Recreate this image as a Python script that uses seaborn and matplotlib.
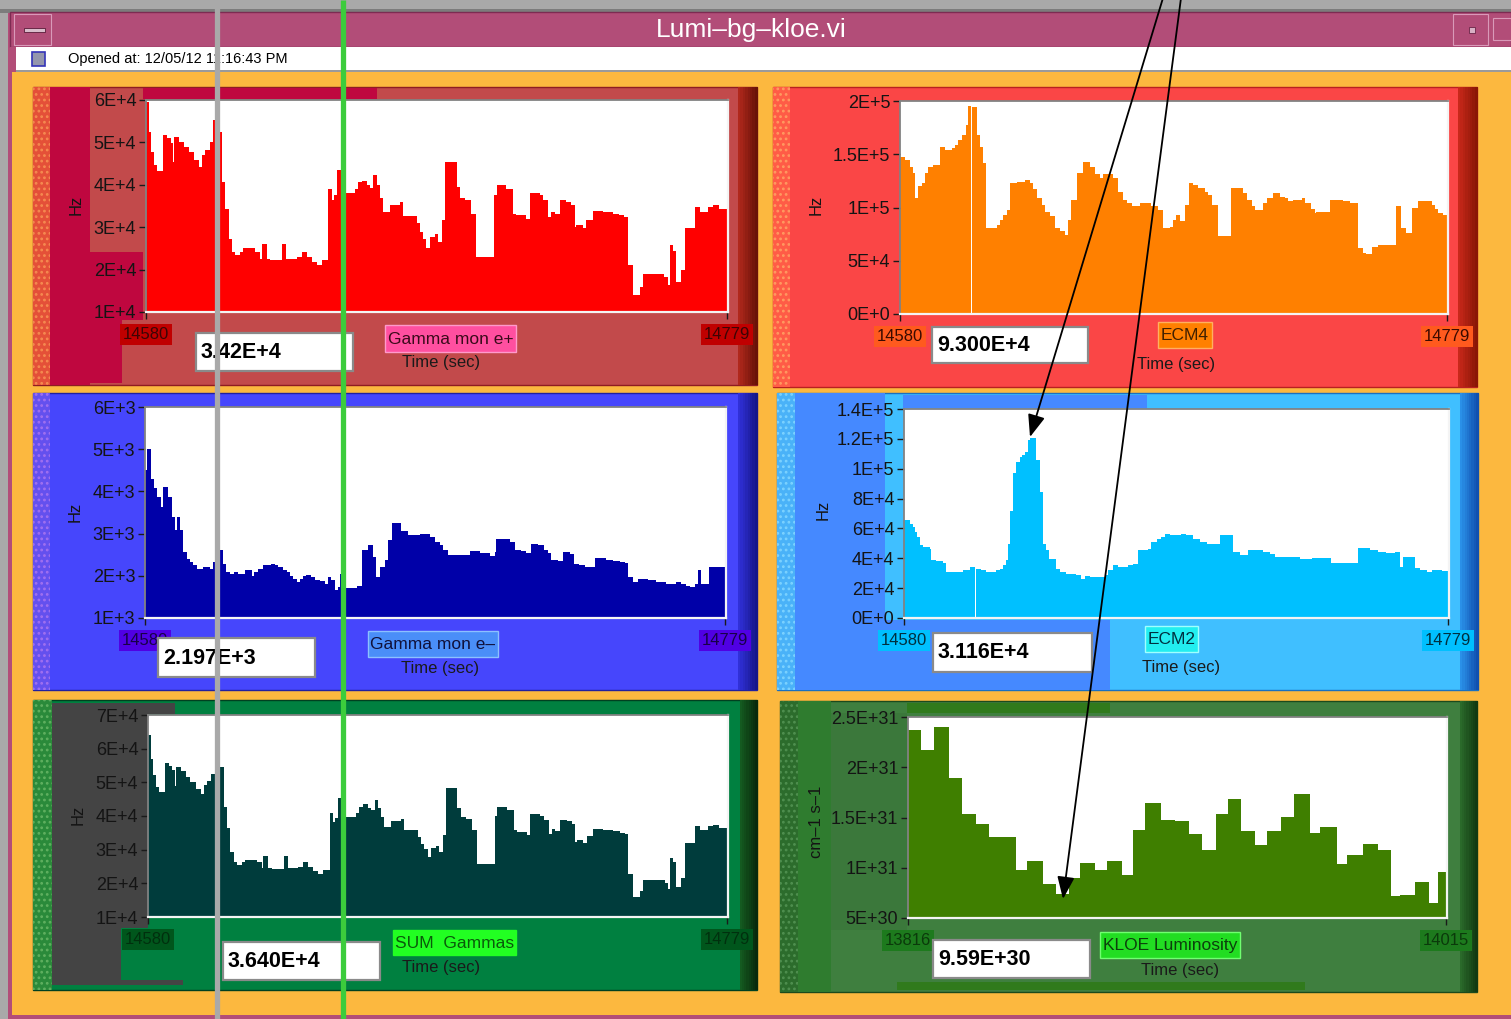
import numpy as np
import pandas as pd
import matplotlib
matplotlib.use("Agg")
import matplotlib.pyplot as plt
from matplotlib.patches import Rectangle
from matplotlib.colors import to_rgb
import seaborn as sns

plt.rcParams["font.family"] = ["Liberation Sans", "DejaVu Sans"]
plt.rcParams["hatch.linewidth"] = 1.2

# ---------------------------------------------------------------------------
# Trend data: each series is a list of step start times (s after the window
# start), the matching rate of each step, and the time of the last sample.
# ---------------------------------------------------------------------------
T0_GAMMA = 14580
T0_KLOE = 13816
TICK_SPAN = 199

ep_start = [0, 1.0, 1.8, 2.9, 3.8, 5.9, 7.2, 8.4, 9.3, 9.7,
            11.2, 12.9, 14.6, 16.4, 18.1, 19.2, 20.3, 21.8, 23.0, 24.9,
            26.0, 27.2, 28.3, 29.5, 30.6, 32.3, 33.4, 37.4, 39.2, 39.7,
            41.4, 42.6, 46.6, 48.0, 51.7, 53.4, 55.1, 56.8, 58.5, 60.2,
            62.5, 63.6, 64.4, 65.4, 66.7, 71.6, 72.7, 73.9, 75.6, 76.7,
            77.9, 79.0, 80.1, 81.3, 83.6, 87.0, 88.1, 92.7, 93.9, 95.0,
            96.1, 97.3, 99.0, 100.1, 101.3, 102.4, 106.4, 107.5, 109.2, 111.5,
            113.2, 119.3, 120.1, 123.5, 125.7, 126.9, 130.3, 131.5, 134.9, 136.0,
            137.7, 138.9, 140.0, 141.7, 144.0, 145.7, 146.9, 147.4, 149.7, 150.8,
            153.1, 156.5, 159.9, 162.2, 163.9, 165.1, 166.8, 169.1, 170.2, 177.6,
            178.8, 179.4, 180.5, 181.6, 183.3, 184.6, 188.0, 189.7, 192.5, 194.2,
            196.4]
ep_end = 199.2
# Gamma monitor, positron side (Hz)
ep_rate = [59600, 52500, 47800, 44600, 43200, 51700, 51000, 49800, 45400, 51300,
           50200, 49000, 47800, 45800, 44300, 47000, 48200, 50200, 55300, 52500,
           40700, 34400, 27300, 24200, 23400, 24200, 25000, 24200, 22600, 26100,
           22600, 22200, 26100, 22600, 23000, 24200, 23000, 21800, 21000, 22200,
           39100, 36400, 37600, 43500, 38000, 39100, 40700, 41000, 40000, 39200,
           42300, 39900, 36800, 33600, 35200, 36000, 32600, 30900, 28900, 27300,
           25000, 27700, 28500, 26500, 31700, 45400, 39500, 36800, 36400, 33200,
           23000, 37600, 39900, 39100, 33200, 32800, 32000, 38000, 37600, 36400,
           32400, 33700, 33200, 36400, 36000, 35200, 30000, 30500, 29700, 31700,
           33800, 33500, 33200, 32800, 32400, 21000, 13900, 15900, 19000, 18200,
           16300, 25700, 24500, 17100, 19800, 29800, 34800, 33600, 34800, 35200,
           34200]
# Sum of both gamma monitors (Hz), same step times as the positron monitor
sum_rate = [64100, 57000, 52100, 48600, 47000, 55600, 54900, 53700, 48800, 54600,
            53500, 51600, 50000, 48000, 46500, 49200, 50400, 52400, 57800, 54600,
            42800, 36500, 29400, 26300, 25400, 26200, 27000, 26200, 24600, 28100,
            24600, 24200, 28100, 24600, 25000, 26200, 25000, 23800, 22900, 24000,
            40900, 38200, 39400, 45300, 39700, 40800, 42600, 43500, 42500, 41700,
            44800, 42500, 39600, 36600, 38400, 39200, 35700, 33900, 31800, 30200,
            27900, 30500, 31200, 29200, 34400, 48200, 42300, 39600, 39000, 35800,
            25600, 40100, 42600, 41700, 35700, 35300, 34400, 40600, 40100, 38800,
            34800, 36100, 35600, 38800, 38400, 37600, 32400, 32800, 32000, 34000,
            36200, 35800, 35400, 35000, 34600, 22900, 15800, 17800, 20900, 20100,
            18200, 27600, 26400, 19000, 21700, 31900, 37000, 35700, 37000, 37400,
            36400]

ecm4_start = [0, 1.8, 3.6, 4.9, 5.5, 6.7, 7.9, 9.1, 10.3, 12.1,
              14.6, 16.4, 18.8, 20.0, 21.2, 22.4, 24.0, 24.9, 25.9, 26.2,
              27.9, 29.1, 30.3, 31.3, 35.2, 36.4, 37.6, 38.8, 40.0, 42.4,
              45.5, 47.3, 48.5, 49.7, 51.5, 52.7, 54.6, 56.4, 58.2, 60.0,
              61.2, 62.4, 64.3, 66.7, 69.1, 70.9, 72.8, 74.0, 77.6, 79.4,
              81.2, 82.5, 84.3, 87.3, 91.5, 94.0, 95.8, 98.2, 99.4, 100.6,
              101.9, 103.7, 105.2, 106.7, 108.5, 110.9, 112.2, 113.7, 115.8, 120.6,
              124.9, 126.1, 127.9, 129.1, 132.2, 133.4, 135.8, 138.2, 140.0, 141.2,
              143.1, 146.1, 147.3, 149.7, 150.9, 151.5, 156.4, 161.2, 163.6, 166.7,
              168.5, 169.7, 171.6, 174.0, 180.6, 182.4, 184.0, 186.4, 188.5, 193.4,
              194.6, 195.8, 197.6]
ecm4_end = 199.4
ecm4_rate = [147000, 145000, 138000, 132000, 109000, 120000, 123000, 132000, 138000, 140000,
             157000, 154000, 156000, 159000, 163000, 168000, 177500, 195000, 0, 194000,
             168000, 157000, 142000, 80600, 84000, 88000, 93000, 98000, 123000, 124000,
             126000, 123000, 117000, 109000, 102500, 96000, 92000, 80600, 78000, 74000,
             88000, 107000, 132000, 142500, 138000, 131000, 127500, 131000, 128000, 115000,
             107000, 104000, 101000, 104000, 101000, 98000, 80600, 82000, 88000, 93000,
             87000, 102500, 123000, 121000, 118000, 115000, 112000, 102500, 73000, 118000,
             113500, 107000, 101000, 98000, 104000, 109000, 113500, 110000, 109000, 106000,
             107000, 109000, 104000, 99000, 95000, 96000, 107000, 106000, 104000, 62000,
             57000, 56000, 63000, 65000, 101000, 80600, 76000, 100000, 106000, 102500,
             99000, 95000, 93000]

em_start = [0, 0.6, 1.9, 3.1, 4.0, 5.4, 6.3, 8.0, 9.1, 10.3,
            10.9, 12.0, 12.9, 14.3, 15.4, 16.6, 17.7, 20.0, 22.3, 23.2,
            25.1, 26.6, 27.8, 29.1, 30.5, 32.0, 34.3, 36.6, 37.4, 38.9,
            40.6, 43.4, 44.6, 45.7, 47.4, 48.6, 49.7, 50.9, 52.0, 53.1,
            54.3, 55.4, 57.1, 58.3, 60.0, 61.7, 62.9, 64.0, 65.1, 66.3,
            66.9, 68.6, 70.9, 72.6, 74.6, 76.6, 78.3, 79.4, 80.6, 82.3,
            83.4, 84.6, 88.0, 90.3, 94.3, 97.7, 99.4, 101.1, 102.3, 104.0,
            111.4, 114.9, 118.3, 120.0, 120.6, 125.1, 126.9, 129.1, 130.9, 132.6,
            134.9, 137.1, 138.3, 139.4, 141.7, 143.4, 145.7, 147.4, 149.1, 150.9,
            154.3, 158.3, 160.6, 162.9, 164.6, 165.7, 167.4, 169.1, 172.6, 175.4,
            178.9, 182.3, 184.0, 185.7, 186.9, 188.6, 189.7, 190.9, 193.7]
em_end = 199.4
# Gamma monitor, electron side (Hz)
em_rate = [4500, 5000, 4300, 4070, 3870, 3630, 4100, 3870, 3400, 3080,
           3400, 3080, 2560, 2400, 2330, 2250, 2170, 2200, 2150, 2330,
           2600, 2290, 2100, 2050, 2090, 2050, 2130, 2000, 2080, 2170,
           2250, 2290, 2250, 2210, 2130, 2090, 2000, 1930, 1850, 1930,
           2000, 2030, 1970, 1900, 1880, 1810, 1970, 1900, 1660, 1730,
           2050, 1700, 1720, 1770, 2600, 2720, 2450, 1970, 2200, 2370,
           2840, 3240, 3060, 2960, 3000, 2920, 2800, 2720, 2600, 2500,
           2590, 2530, 2480, 2560, 2880, 2800, 2620, 2580, 2530, 2760,
           2720, 2600, 2530, 2380, 2350, 2560, 2520, 2290, 2250, 2200,
           2430, 2370, 2350, 2330, 2310, 1970, 1850, 1930, 1890, 1850,
           1810, 1850, 1810, 1770, 1730, 1810, 2130, 1810, 2197]

ecm2_start = [0, 2.1, 3.3, 4.1, 4.8, 5.7, 7.0, 9.4, 10.0, 11.8,
              14.3, 15.3, 21.6, 24.0, 26.1, 26.5, 28.3, 30.1, 33.8, 35.0,
              36.2, 37.5, 38.1, 38.9, 39.7, 41.1, 42.3, 43.3, 44.2, 45.4,
              46.0, 48.4, 49.7, 50.9, 52.1, 53.1, 55.5, 57.0, 59.4, 63.1,
              64.9, 66.1, 68.0, 73.5, 74.7, 76.5, 78.3, 82.0, 83.8, 85.7,
              89.3, 90.5, 92.4, 94.2, 95.4, 97.2, 101.5, 103.3, 105.8, 108.2,
              110.7, 115.6, 120.4, 122.9, 125.9, 131.4, 133.8, 135.7, 144.8, 149.1,
              151.5, 156.4, 166.2, 170.4, 173.5, 176.5, 179.6, 181.4, 182.7, 186.9,
              188.8, 191.2, 193.0, 196.7]
ecm2_end = 199.4
ecm2_rate = [65500, 63300, 61000, 57700, 54400, 48800, 47700, 46500, 38700, 38000,
             36900, 30900, 32000, 34200, 0, 33100, 32000, 30900, 32000, 33100,
             35300, 38700, 49900, 72000, 96900, 104700, 108000, 109200, 111400, 119200,
             120400, 105800, 84600, 49900, 45400, 39800, 33100, 30900, 29800, 28600,
             26400, 28000, 27500, 28600, 32000, 35300, 34200, 35300, 36000, 45400,
             46500, 51000, 53200, 54400, 56600, 55500, 56600, 55500, 53200, 51000,
             49900, 55500, 44300, 42500, 45400, 44500, 43200, 40900, 39800, 40500,
             40000, 36900, 47200, 45400, 44500, 43800, 44500, 34200, 40900, 33600,
             32400, 30900, 32000, 31160]

kloe_start = [0, 4.7, 9.6, 15.2, 20.1, 25.3, 30.0, 40.0, 44.0, 49.8,
              54.9, 59.7, 63.6, 69.0, 73.7, 79.0, 83.3, 87.7, 93.5, 98.7,
              103.9, 108.7, 113.9, 118.3, 123.2, 128.4, 132.8, 138.0, 142.7, 148.8,
              152.3, 158.8, 162.3, 168.2, 173.7, 178.5, 182.0, 187.5, 192.7, 196.0]
kloe_end = 199.0
# KLOE luminosity
kloe_lumi = [2.367e31, 2.168e31, 2.400e31, 1.893e31, 1.532e31, 1.432e31, 1.306e31, 9.81e30, 1.067e31, 8.38e30,
             7.42e30, 8.98e30, 1.051e31, 9.81e30, 1.067e31, 9.25e30, 1.379e31, 1.644e31, 1.475e31, 1.462e31,
             1.336e31, 1.180e31, 1.538e31, 1.687e31, 1.366e31, 1.223e31, 1.366e31, 1.505e31, 1.731e31, 1.349e31,
             1.405e31, 1.041e31, 1.124e31, 1.240e31, 1.173e31, 7.19e30, 7.32e30, 8.58e30, 6.49e30, 9.59e30]

# ---------------------------------------------------------------------------
W, H = 1511, 1019
fig = plt.figure(figsize=(W / 100, H / 100), dpi=100)
fig.patch.set_facecolor("#a9a9a9")


def box(x0, y0, x1, y1, fc, ec="none", lw=0.0, z=-5, hatch=None):
    r = Rectangle((x0 / W, 1 - y1 / H), (x1 - x0) / W, (y1 - y0) / H,
                  transform=fig.transFigure, facecolor=fc, edgecolor=ec,
                  linewidth=lw, zorder=z, hatch=hatch)
    fig.add_artist(r)
    return r


def ftext(x, y, s, **kw):
    return fig.text(x / W, 1 - y / H, s, **kw)


def gradient_strip(x0, y0, x1, y1, c_left, c_right, n=8):
    a, b = np.array(to_rgb(c_left)), np.array(to_rgb(c_right))
    xs = np.linspace(x0, x1, n + 1)
    for i in range(n):
        box(xs[i], y0, xs[i + 1] + 0.5, y1, tuple(a + (b - a) * i / (n - 1)), z=-4)


def textured(x0, y0, x1, y1, fc, dots):
    box(x0, y0, x1, y1, fc, ec=dots, lw=0, z=-4, hatch="...")


def lv_tick(v):
    if v == 0:
        return "0E+0"
    e = int(np.floor(np.log10(abs(v)) + 1e-9))
    return f"{v / 10 ** e:g}E+{e}"


def lv_value(v, decimals):
    e = int(np.floor(np.log10(abs(v)) + 1e-9))
    return f"{v / 10 ** e:.{decimals}f}E+{e}"


# ---------------- window chrome ----------------
box(12, 72, W, H, "#fcb83f", z=-10)
box(8, 12, 11.5, H, "#b24d78", z=-9)
box(8, 1015, W, H, "#b24d78", z=-9)
box(0, 9, W, 13, "#7c7c7c", z=-9)
box(10, 12, W, 47, "#b24d78", ec="#7d2b52", lw=1.0, z=-9)
box(14, 14, 51, 45, "#b24d78", ec="#d99ab9", lw=0.8, z=-8)
box(24, 27.5, 45, 32, "#d9bccb", ec="#5a1a38", lw=0.6, z=-7)
box(1453, 14, 1488, 45, "#b24d78", ec="#d99ab9", lw=0.8, z=-8)
box(1469, 27, 1475, 33, "#d8b0c4", ec="#6a2446", lw=0.6, z=-7)
box(1493, 18, W + 2, 40, "#b24d78", ec="#d99ab9", lw=0.8, z=-8)
ftext(751, 30, "Lumi\u2013bg\u2013kloe.vi", color="white", fontsize=19,
      ha="center", va="center")
box(10, 47, W, 71, "white", z=-9)
box(10, 47, 16, 72, "#b24d78", z=-8)
box(16, 70, W, 72, "#9a9a9a", z=-8)
box(32, 52, 45, 66, "#9496ad", ec="#3434b8", lw=1.2, z=-7)
ftext(68, 59.5, "Opened at: 12/05/12 11:16:43 PM", color="black", fontsize=10.5,
      ha="left", va="center")

# ---------------- panel backgrounds ----------------
# Gamma mon e+
box(33, 87, 757, 385, "#c24a4b", ec="#8e1c22", lw=1.0)
textured(33, 87, 50, 385, "#e45038", "#f58a50")
box(50, 87, 90, 385, "#bf073f", z=-4)
box(90, 252, 143, 320, "#bf073f", z=-4)
box(50, 318, 122, 383, "#bf073f", z=-4)
box(143, 88, 377, 99, "#bf073f", z=-4)
gradient_strip(738, 87, 757, 385, "#b0281c", "#6a1208")
# ECM4
box(773, 87, 1477, 387, "#fa4646", ec="#b82020", lw=1.0)
textured(773, 87, 790, 387, "#ff5c46", "#ff9a60")
gradient_strip(1458, 87, 1477, 387, "#c8281a", "#8a1606")
# Gamma mon e-
box(33, 393, 757, 690, "#4646fc", ec="#2020a0", lw=1.0)
textured(33, 393, 50, 690, "#6450ee", "#a070f0")
gradient_strip(738, 393, 757, 690, "#3030d8", "#16168a")
# ECM2
box(777, 393, 1478, 690, "#40bfff", ec="#1a70c0", lw=1.0)
textured(777, 393, 795, 690, "#4ab2f8", "#7cd2ff")
box(795, 393, 885, 690, "#4589ff", z=-4)
box(885, 620, 1110, 690, "#4589ff", z=-4)
box(903, 395, 1147, 408, "#4589ff", z=-4)
gradient_strip(1460, 393, 1478, 690, "#2a90e8", "#1050b0")
# SUM Gammas
box(33, 700, 757, 990, "#008040", ec="#004020", lw=1.0)
textured(33, 700, 52, 990, "#2a8a3a", "#60b060")
box(52, 703, 148, 928, "#444444", z=-4)
box(52, 928, 121, 982, "#444444", z=-4)
box(52, 980, 183, 985, "#444444", z=-4)
box(52, 703, 175, 714, "#444444", z=-4)
gradient_strip(740, 700, 757, 990, "#145a20", "#082a0c")
# KLOE Luminosity
box(780, 701, 1477, 992, "#3f7f3f", ec="#1c4a1c", lw=1.0)
textured(780, 701, 798, 992, "#2c6c2c", "#4f8f4f")
box(798, 701, 831, 992, "#2f7c2f", z=-4)
box(831, 713, 907, 930, "#3b783b", z=-4)
box(907, 703, 1110, 713, "#307a1c", z=-4)
box(897, 982, 1305, 990, "#307a1c", z=-4)
gradient_strip(1460, 701, 1477, 992, "#2a6a2a", "#123a12")

# ---------------- trend charts ----------------
panels = [
    dict(axes=(146, 100, 728, 312), t0=T0_GAMMA, start=ep_start, end=ep_end, y=ep_rate,
         fill="#ff0000", ylim=(1e4, 6e4), yticks=np.arange(1, 7) * 1e4,
         tick_bg="#c00000", tick_fg="#3c0505", ylabel="Hz", ylab=(-0.1203, 0.505),
         xlab=(0.507, -0.236), vbox=(196, 333, 353, 371), dec=2,
         name="Gamma mon e+", nbox=(385, 325, 516, 352), nbg="#ff4fa0", nedge="#ff9acb",
         nfg="#3a0a1a"),
    dict(axes=(900, 101, 1448, 314), t0=T0_GAMMA, start=ecm4_start, end=ecm4_end, y=ecm4_rate,
         fill="#ff8000", ylim=(0, 2e5), yticks=np.arange(0, 5) * 5e4,
         tick_bg="#ff5a1e", tick_fg="#3a0a00", ylabel="Hz", ylab=(-0.153, 0.512),
         xlab=(0.504, -0.235), vbox=(932, 327, 1088, 363), dec=3,
         name="ECM4", nbox=(1158, 322, 1212, 348), nbg="#ff8000", nedge="#ffb060",
         nfg="#402000"),
    dict(axes=(145, 407, 726, 618), t0=T0_GAMMA, start=em_start, end=em_end, y=em_rate,
         fill="#0000a8", ylim=(1e3, 6e3), yticks=np.arange(1, 7) * 1e3,
         tick_bg="#5000e4", tick_fg="#180048", ylabel="Hz", ylab=(-0.1205, 0.502),
         xlab=(0.508, -0.237), vbox=(158, 638, 315, 677), dec=3,
         name="Gamma mon e\u2013", nbox=(368, 631, 498, 657), nbg="#4a8ef8", nedge="#8cc0ff",
         nfg="#10103a"),
    dict(axes=(904, 409, 1449, 618), t0=T0_GAMMA, start=ecm2_start, end=ecm2_end, y=ecm2_rate,
         fill="#00c0ff", ylim=(0, 1.4e5), yticks=np.arange(0, 8) * 2e4,
         tick_bg="#00c0ff", tick_fg="#00303f", ylabel="Hz", ylab=(-0.1486, 0.517),
         xlab=(0.508, -0.239), vbox=(933, 633, 1092, 672), dec=3,
         name="ECM2", nbox=(1145, 626, 1198, 652), nbg="#22eef0", nedge="#a0ffff",
         nfg="#003040"),
    dict(axes=(148, 715, 728, 917), t0=T0_GAMMA, start=ep_start, end=ep_end, y=sum_rate,
         fill="#003c3c", ylim=(1e4, 7e4), yticks=np.arange(1, 8) * 1e4,
         tick_bg="#00561c", tick_fg="#00300e", ylabel="Hz", ylab=(-0.1207, 0.505),
         xlab=(0.505, -0.252), vbox=(223, 942, 380, 980), dec=3,
         name="SUM  Gammas", nbox=(393, 930, 516, 955), nbg="#22ff22", nedge="#22ff22",
         nfg="#0a5a0a"),
    dict(axes=(908, 717, 1447, 918), t0=T0_KLOE, start=kloe_start, end=kloe_end, y=kloe_lumi,
         fill="#3f7f00", ylim=(5e30, 2.5e31), yticks=np.arange(1, 6) * 5e30,
         tick_bg="#1d7a1d", tick_fg="#0b3a0b", ylabel="cm\u20131 s\u20131", ylab=(-0.169, 0.478),
         xlab=(0.505, -0.259), vbox=(933, 940, 1090, 978), dec=2,
         name="KLOE Luminosity", nbox=(1100, 932, 1240, 958), nbg="#22dd22", nedge="#70ff70",
         nfg="#0c400c"),
]

for p in panels:
    x0, y0, x1, y1 = p["axes"]
    ax = fig.add_axes([x0 / W, 1 - y1 / H, (x1 - x0) / W, (y1 - y0) / H], zorder=1)
    ax.set_facecolor("white")
    edges = p["t0"] + np.append(np.asarray(p["start"], float), p["end"])
    steps = pd.DataFrame({"time": 0.5 * (edges[:-1] + edges[1:]),
                          "rate": np.asarray(p["y"], float)})
    sns.histplot(data=steps, x="time", weights="rate", bins=edges.tolist(),
                 element="step", fill=True, color=p["fill"], alpha=1.0,
                 linewidth=0, ax=ax)
    ax.set_xlim(p["t0"], p["t0"] + TICK_SPAN + 0.4)
    ax.set_ylim(*p["ylim"])
    ax.set_yticks(p["yticks"])
    ax.set_yticklabels([lv_tick(v) for v in p["yticks"]])
    ax.set_xticks([p["t0"], p["t0"] + TICK_SPAN])
    ax.set_xticklabels([str(p["t0"]), str(p["t0"] + TICK_SPAN)])
    ax.tick_params(axis="y", direction="out", length=5, width=1.0, color="#1a1a1a",
                   labelsize=13, labelcolor="#141414", pad=2)
    ax.tick_params(axis="x", direction="out", length=5, width=1.0, color="#1a1a1a",
                   labelsize=12, labelcolor=p["tick_fg"], pad=5.5)
    for lbl in ax.get_xticklabels():
        lbl.set_bbox(dict(boxstyle="square,pad=0.18", facecolor=p["tick_bg"],
                          edgecolor="none"))
    for side in ("left", "top"):
        ax.spines[side].set_color("#828282")
        ax.spines[side].set_linewidth(1.3)
    for side in ("right", "bottom"):
        ax.spines[side].set_color("#f4f4f4")
        ax.spines[side].set_linewidth(1.6)
    ax.set_ylabel(p["ylabel"], fontsize=12, color="#141414", ha="center", va="center")
    ax.yaxis.set_label_coords(*p["ylab"])
    ax.set_xlabel("Time (sec)", fontsize=12, color="#1a1a1a", ha="center", va="center")
    ax.xaxis.set_label_coords(*p["xlab"])

    # current-value indicator
    bx0, by0, bx1, by1 = p["vbox"]
    box(bx0, by0, bx1, by1, "white", ec="#8a8a8a", lw=1.6, z=5)
    ftext(bx0 + 5, (by0 + by1) / 2 + 0.5, lv_value(p["y"][-1], p["dec"]),
          fontsize=15.5, fontweight="bold", color="black", ha="left", va="center", zorder=6)

    # plot name tag
    nx0, ny0, nx1, ny1 = p["nbox"]
    box(nx0, ny0, nx1, ny1, p["nbg"], ec=p["nedge"], lw=1.0, z=5)
    ftext((nx0 + nx1) / 2, (ny0 + ny1) / 2 + 0.5, p["name"], fontsize=12.5,
          color=p["nfg"], ha="center", va="center", zorder=6)

# ---------------- overlay: cursor lines and arrows ----------------
ov = fig.add_axes([0, 0, 1, 1], zorder=20)
ov.set_xlim(0, W)
ov.set_ylim(H, 0)
ov.axis("off")
ov.patch.set_alpha(0)
ov.plot([216.5, 216.5], [0, H], color="#a9a9a9", lw=3.8, solid_capstyle="butt")
ov.plot([343, 343], [0, H], color="#3ccc3c", lw=3.8, solid_capstyle="butt")
arrow = dict(arrowstyle="-|>,head_length=0.85,head_width=0.33", color="black",
             lw=1.3, shrinkA=0, shrinkB=0, mutation_scale=16)
ov.annotate("", xy=(1030, 437), xytext=(1163, -2), arrowprops=arrow)
ov.annotate("", xy=(1063, 899), xytext=(1181, -2), arrowprops=arrow)

fig.savefig("out.png", dpi=100)
